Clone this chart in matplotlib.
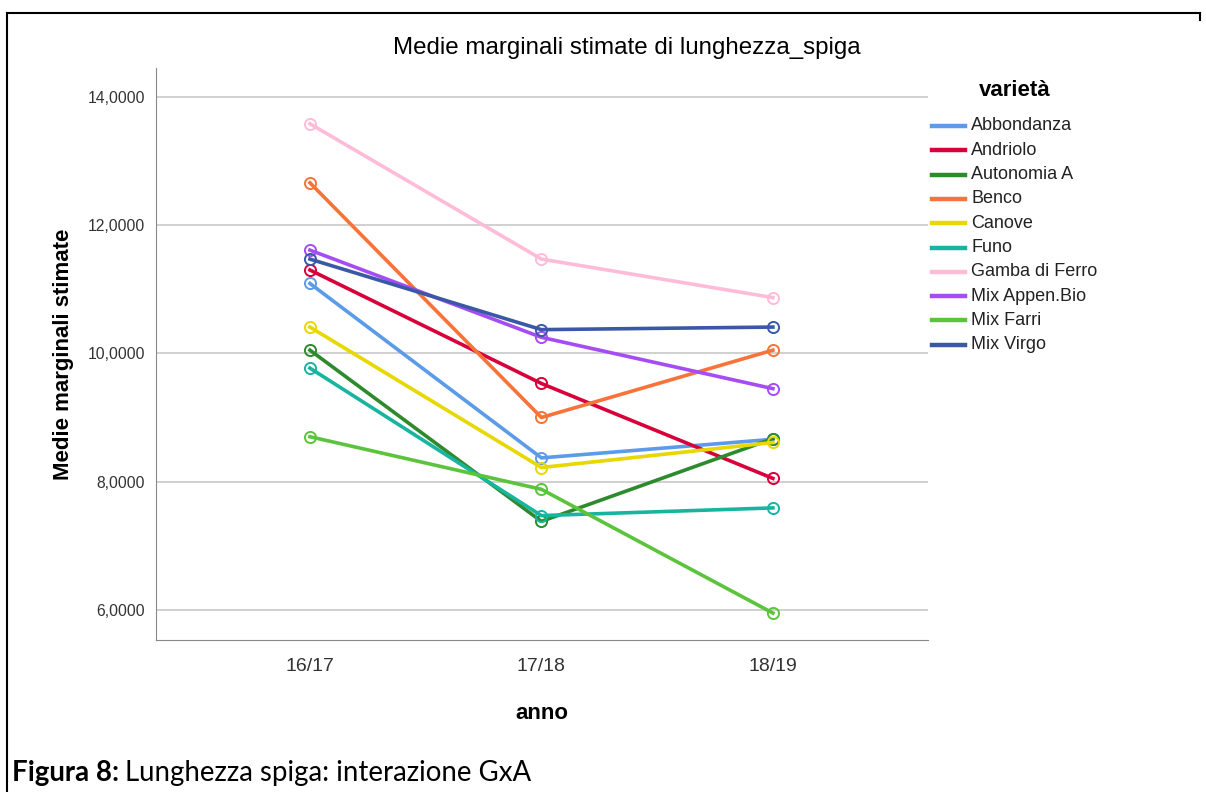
import numpy as np
import matplotlib.pyplot as plt
from matplotlib.lines import Line2D
from matplotlib.ticker import FuncFormatter

plt.rcParams['font.family'] = ['Liberation Sans', 'DejaVu Sans']

# data
anni = ['16/17', '17/18', '18/19']
varieta = ['Abbondanza', 'Andriolo', 'Autonomia A', 'Benco', 'Canove', 'Funo',
           'Gamba di Ferro', 'Mix Appen.Bio', 'Mix Farri', 'Mix Virgo']
abbondanza = [11.09, 8.37, 8.66]
andriolo = [11.30, 9.53, 8.05]
autonomia_a = [10.05, 7.38, 8.67]
benco = [12.66, 9.00, 10.05]
canove = [10.41, 8.22, 8.61]
funo = [9.77, 7.47, 7.59]
gamba_di_ferro = [13.58, 11.47, 10.87]
mix_appen_bio = [11.61, 10.25, 9.45]
mix_farri = [8.70, 7.88, 5.95]
mix_virgo = [11.47, 10.37, 10.41]
colori = ['#5b9be8', '#d8003a', '#2d8a2d', '#f7733a', '#e6d800', '#17b5a0',
          '#ffbcd8', '#a64cf5', '#5cc43c', '#3b58a6']

serie = [abbondanza, andriolo, autonomia_a, benco, canove, funo,
         gamba_di_ferro, mix_appen_bio, mix_farri, mix_virgo]

W, H = 1206, 792
fig = plt.figure(figsize=(W / 100, H / 100), dpi=100)
ax = fig.add_axes([156 / W, 1 - 640 / H, (928 - 156) / W, (640 - 68) / H])

x = np.arange(len(anni))
for nome, valori, col in zip(varieta, serie, colori):
    ax.plot(x, valori, color=col, lw=2.6, label=nome, zorder=3,
            marker='o', markersize=8, markerfacecolor='none',
            markeredgecolor=col, markeredgewidth=1.4)

ax.set_xlim(-0.665, 2.67)
ax.set_ylim(5.53, 14.45)
ax.set_xticks(x)
ax.set_xticklabels(anni, fontsize=14, color='#333333')
ax.set_yticks([6, 8, 10, 12, 14])
ax.yaxis.set_major_formatter(FuncFormatter(lambda v, p: f'{v:.4f}'.replace('.', ',')))
ax.tick_params(axis='y', labelsize=11.3, labelcolor='#333333', length=0, pad=8)
ax.tick_params(axis='x', length=0, pad=13)
ax.grid(axis='y', color='#c8c8c8', lw=1.2, zorder=0)

for s in ['top', 'right']:
    ax.spines[s].set_visible(False)
ax.spines['left'].set_color('#888888')
ax.spines['bottom'].set_color('#888888')

fig.text(627 / W, 1 - 48 / H, 'Medie marginali stimate di lunghezza_spiga',
         fontsize=17.4, ha='center', va='center')
ax.set_ylabel('Medie marginali stimate', fontsize=16, fontweight='bold', labelpad=10)
ax.set_xlabel('anno', fontsize=16, fontweight='bold', labelpad=20)

# legenda
fig.text(1015 / W, 1 - 91 / H, 'varietà', fontsize=16, fontweight='bold',
         ha='center', va='center')
for i, (nome, col) in enumerate(zip(varieta, colori)):
    yy = 1 - (126 + i * 24.3) / H
    fig.add_artist(Line2D([932 / W, 965 / W], [yy, yy], color=col, lw=3.2))
    fig.text(971 / W, yy, nome, fontsize=13, color='#222222', va='center')

# cornice del documento
fig.add_artist(Line2D([7 / W, 1200 / W], [1 - 13 / H, 1 - 13 / H],
                      color='black', lw=1.5))
fig.add_artist(Line2D([7 / W, 7 / W], [1 - 13 / H, 0], color='black', lw=1.5))
fig.add_artist(Line2D([1200 / W, 1200 / W], [1 - 13 / H, 1 - 20 / H],
                      color='black', lw=1.5))

# didascalia
t = fig.text(12 / W, 1 - 781 / H, 'Figura 8:', fontsize=19.9, fontweight='bold',
             family=['Lato', 'DejaVu Sans'], va='baseline')
fig.canvas.draw()
bb = t.get_window_extent()
fig.text(bb.x1 / W + 0.005, 1 - 781 / H, 'Lunghezza spiga: interazione GxA',
         fontsize=19.9, family=['Lato', 'DejaVu Sans'], va='baseline')

fig.savefig('out.png', dpi=100)
